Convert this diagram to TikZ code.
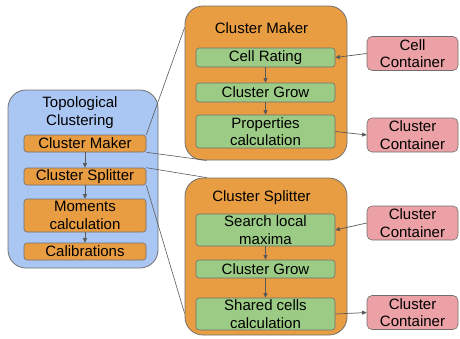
\documentclass[tikz,border=0pt]{standalone}
\usepackage{fontspec}
\setmainfont{Liberation Sans}
\usetikzlibrary{arrows.meta,calc}
\definecolor{bluefill}{HTML}{AAC6F3}
\definecolor{orangefill}{HTML}{E99D42}
\definecolor{greenfill}{HTML}{9BCB84}
\definecolor{pinkfill}{HTML}{EBA1A5}
\definecolor{edgegray}{HTML}{707070}
\definecolor{linegray}{HTML}{5A5A5A}
\tikzset{
  txt/.style={font=\fontsize{15}{17.5}\selectfont, align=center, text=black},
  bigbox/.style={draw=edgegray, line width=0.8pt, rounded corners=18pt, inner sep=0pt},
  smallbox/.style={txt, draw=edgegray, line width=0.6pt, rounded corners=3pt, inner sep=0pt},
  obox/.style={smallbox, fill=orangefill, minimum width=122pt},
  gbox/.style={smallbox, fill=greenfill, minimum width=139pt},
  pbox/.style={smallbox, fill=pinkfill, minimum width=91pt, minimum height=34pt, rounded corners=5pt},
  arr/.style={draw=linegray, line width=0.7pt, -{Triangle[length=4.5pt,width=4pt]}},
  conn/.style={draw=linegray, line width=0.6pt}
}
\begin{document}
\begin{tikzpicture}[x=1pt,y=-1pt]
\useasboundingbox (0,0) rectangle (460,338);
% big containers
\node[bigbox, fill=bluefill, minimum width=150pt, minimum height=178pt] (topo) at (83,179) {};
\node[bigbox, fill=orangefill, minimum width=162pt, minimum height=154pt] (bigcm) at (266,83) {};
\node[bigbox, fill=orangefill, minimum width=162pt, minimum height=157pt] (bigcs) at (266,256.5) {};
% titles
\node[txt] (topotitle) at (80,112.5) {Topological\\Clustering};
\node[txt] (cmtitle) at (261.5,28) {Cluster Maker};
\node[txt] (cstitle) at (261.5,198) {Cluster Splitter};
% left orange boxes
\node[obox, minimum height=17pt] (cm) at (85,143.5) {Cluster Maker};
\node[obox, minimum height=17pt] (cs) at (85,176.5) {Cluster Splitter};
\node[obox, minimum height=33pt] (mom) at (85,215.5) {Moments\\calculation};
\node[obox, minimum height=17pt] (cal) at (85,251.5) {Calibrations};
% green boxes (maker)
\node[gbox, minimum height=19pt] (rate) at (265.5,57.5) {Cell Rating};
\node[gbox, minimum height=19pt] (grow1) at (265.5,92.5) {Cluster Grow};
\node[gbox, minimum height=33pt] (prop) at (265.5,131.5) {Properties\\calculation};
% green boxes (splitter)
\node[gbox, minimum height=32pt] (search) at (265.5,230) {Search local\\maxima};
\node[gbox, minimum height=18pt] (grow2) at (265.5,269) {Cluster Grow};
\node[gbox, minimum height=32pt] (shared) at (265.5,314) {Shared cells\\calculation};
% pink containers
\node[pbox] (cellc) at (412.5,53.5) {Cell\\Container};
\node[pbox] (clc1) at (412.5,135) {Cluster\\Container};
\node[pbox] (clc2) at (412.5,223) {Cluster\\Container};
\node[pbox] (clc3) at (412.5,312.5) {Cluster\\Container};
% internal arrows
\draw[arr] (cm) -- (cs);
\draw[arr] (cs) -- (mom);
\draw[arr] (mom) -- (cal);
\draw[arr] (rate) -- (grow1);
\draw[arr] (grow1) -- (prop);
\draw[arr] (search) -- (grow2);
\draw[arr] (grow2) -- (shared);
% container arrows
\draw[arr] (cellc.west) -- (rate.east);
\draw[arr] (prop.east) -- (clc1.west);
\draw[arr] (clc2.west) -- (search.east);
\draw[arr] (shared.east) -- (clc3.west);
% zoom lines
\coordinate (cmA) at ($(bigcm.north west)+(0,22)$);
\coordinate (cmB) at ($(bigcm.south west)+(22,0)$);
\coordinate (csA) at ($(bigcs.north west)+(22,0)$);
\coordinate (csB) at ($(bigcs.south west)+(0,-22)$);
\draw[conn] (cm.north east) -- (cmA);
\draw[conn] (cm.south east) -- (cmB);
\draw[conn] (cs.north east) -- (csA);
\draw[conn] (cs.south east) -- (csB);
\end{tikzpicture}
\end{document}
